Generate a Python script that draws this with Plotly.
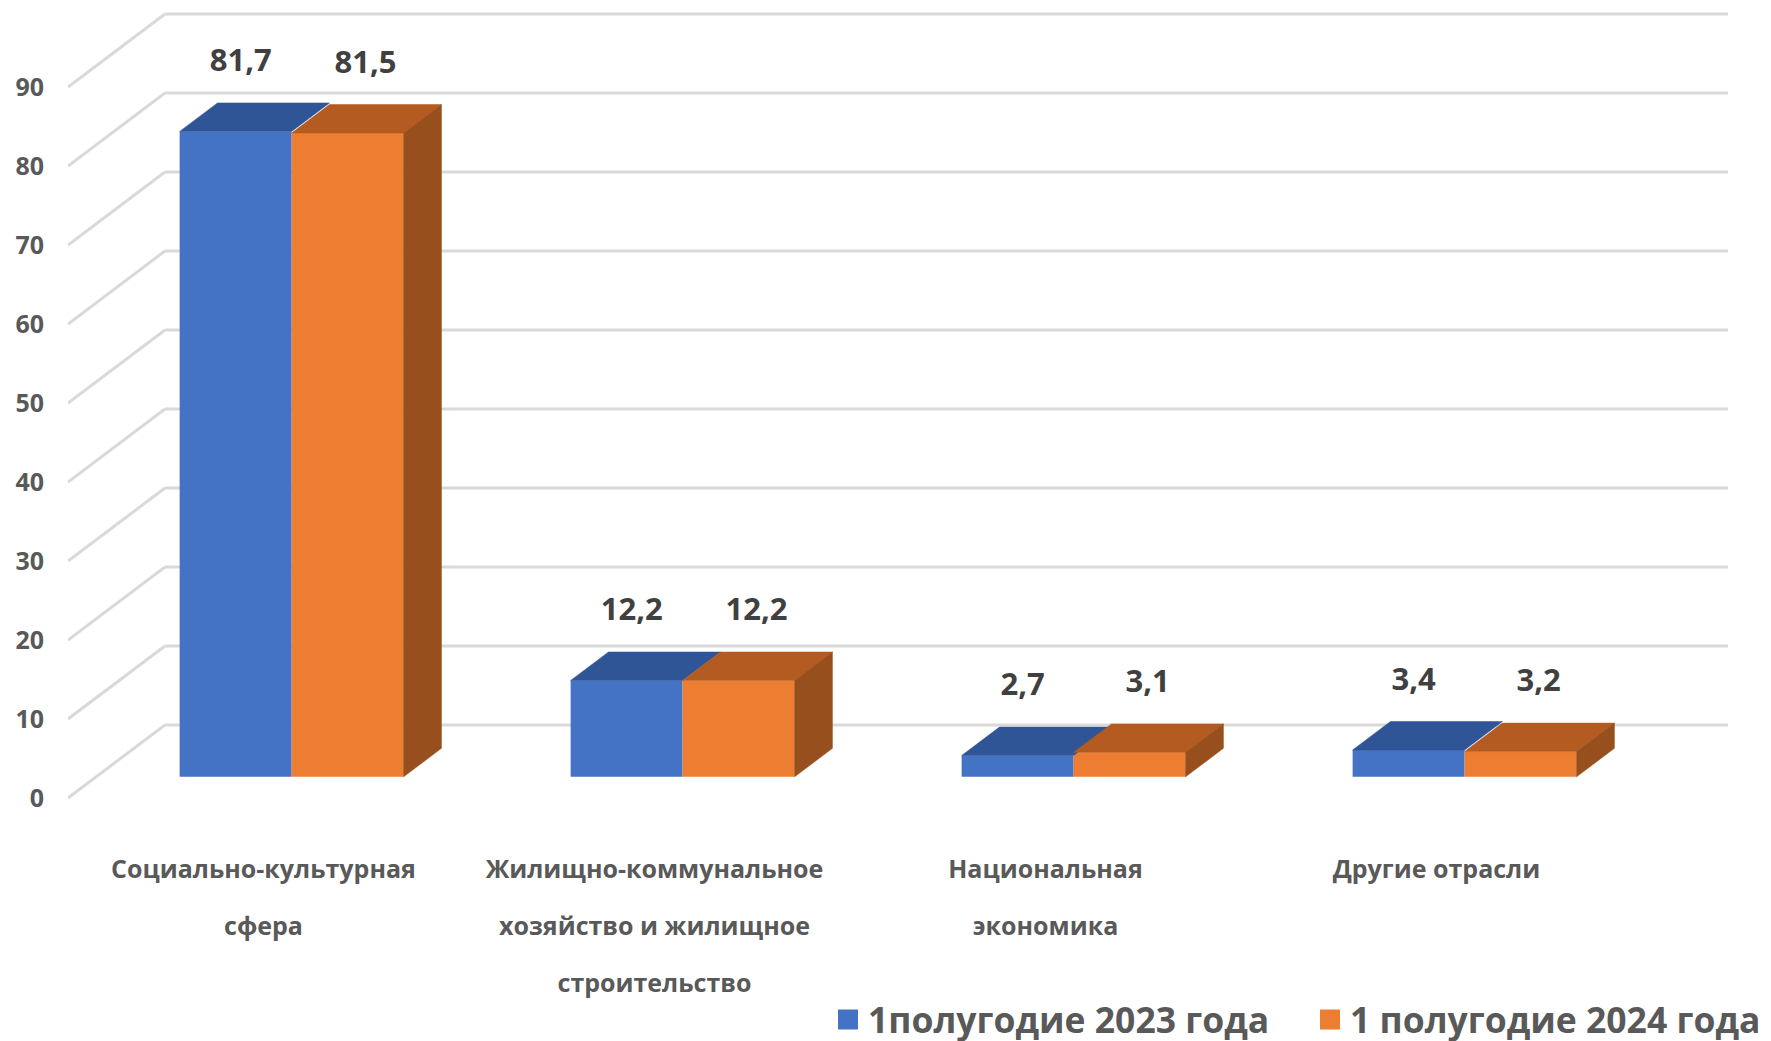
import plotly.graph_objects as go

# ---------------- data ----------------
category_lines = [
    ["Социально-культурная", "сфера"],
    ["Жилищно-коммунальное", "хозяйство и жилищное", "строительство"],
    ["Национальная", "экономика"],
    ["Другие отрасли"],
]
series_names = ["1полугодие 2023 года", "1 полугодие 2024 года"]
values_2023 = [81.7, 12.2, 2.7, 3.4]
values_2024 = [81.5, 12.2, 3.1, 3.2]
y_ticks = [0, 10, 20, 30, 40, 50, 60, 70, 80, 90]

# ---------------- style / geometry ----------------
W, H = 1771, 1041
FRONT_COLORS = ["#4472C4", "#ED7D31"]
TOP_COLORS = ["#2F5597", "#B35B21"]
SIDE_COLORS = ["#2F528F", "#974F1D"]
GRID = "#D9D9D9"
FONT = "Open Sans"

DX, DY = 0.2481, 9.24          # full depth of the 3D box in axis units
BAR_D0, BAR_D1 = 0.29, 0.68     # depth span of the bars (fraction)
BAR_W = 0.2864                  # width of one bar in category units
BARGAP = 1 - 2 * BAR_W

n = len(values_2023)
xs = list(range(n))
bx, by = BAR_D0 * DX, BAR_D0 * DY
ddx, ddy = (BAR_D1 - BAR_D0) * DX, (BAR_D1 - BAR_D0) * DY

fig = go.Figure()

# front faces
for s, vals in enumerate([values_2023, values_2024]):
    fig.add_trace(go.Bar(
        x=[i + bx for i in xs], y=vals, base=by, name=series_names[s],
        marker=dict(color=FRONT_COLORS[s], line=dict(width=0)),
        showlegend=False, hoverinfo="skip",
    ))

# top faces and side face
def top_poly(vals, off):
    px, py = [], []
    for i, v in zip(xs, vals):
        xl = i + bx + off - BAR_W / 2
        xr = xl + BAR_W
        t = by + v
        px += [xl, xr, xr + ddx, xl + ddx, xl, None]
        py += [t, t, t + ddy, t + ddy, t, None]
    return px, py

def side_poly(vals, off):
    px, py = [], []
    for i, v in zip(xs, vals):
        xr = i + bx + off + BAR_W / 2
        t = by + v
        px += [xr, xr, xr + ddx, xr + ddx, xr, None]
        py += [by, t, t + ddy, by + ddy, by, None]
    return px, py

offs = [-BAR_W / 2, BAR_W / 2]
for s, vals in enumerate([values_2023, values_2024]):
    tx, ty = top_poly(vals, offs[s])
    fig.add_trace(go.Scatter(x=tx, y=ty, mode="lines", fill="toself",
                             fillcolor=TOP_COLORS[s], line=dict(width=0.5, color=TOP_COLORS[s]),
                             showlegend=False, hoverinfo="skip"))
sx, sy = side_poly(values_2024, offs[1])
fig.add_trace(go.Scatter(x=sx, y=sy, mode="lines", fill="toself",
                         fillcolor=SIDE_COLORS[1], line=dict(width=0.5, color=SIDE_COLORS[1]),
                         showlegend=False, hoverinfo="skip"))

# data labels
LABEL_DY = 8.6
label_shift = [0.013, 0.046]
for s, vals in enumerate([values_2023, values_2024]):
    fig.add_trace(go.Scatter(
        x=[i + bx + offs[s] + label_shift[s] for i in xs],
        y=[by + v + LABEL_DY for v in vals],
        mode="text",
        text=[f"{v:.1f}".replace(".", ",") for v in vals],
        textfont=dict(family=FONT, size=31, color="#404040", weight="bold"),
        textposition="middle center", showlegend=False, hoverinfo="skip",
    ))

# legend entries
for s in range(2):
    fig.add_trace(go.Scatter(
        x=[None], y=[None], mode="markers", name=series_names[s],
        marker=dict(symbol="square", size=22, color=FRONT_COLORS[s],
                    line=dict(width=4, color=FRONT_COLORS[s])),
    ))

# gridlines: back wall + left diagonal
shapes = []
for v in y_ticks:
    shapes.append(dict(type="line", xref="x", yref="y", x0=-0.5, y0=v, x1=-0.5 + DX, y1=v + DY,
                       line=dict(color=GRID, width=3), layer="below"))
    shapes.append(dict(type="line", xref="x", yref="y", x0=-0.5 + DX, y0=v + DY, x1=n - 0.5 + DX, y1=v + DY,
                       line=dict(color=GRID, width=3), layer="below"))

ticktext = ["<br>".join(f"<span style='font-size:25px'>{l}</span>" for l in lines) for lines in category_lines]

# plot area (page has an 8px body margin, so the figure is laid out 8px up/left)
L, R, T, B = 60, 1720, 2, 792
fig.update_layout(
    width=W, height=H,
    margin=dict(l=L, r=W - R, t=T, b=H - B, autoexpand=False),
    plot_bgcolor="white", paper_bgcolor="white",
    barmode="group", bargap=BARGAP, bargroupgap=0,
    shapes=shapes,
    xaxis=dict(range=[-0.5, n - 0.5 + DX * 0.99], showgrid=False, zeroline=False, showline=False,
               tickmode="array", tickvals=xs, ticktext=ticktext, tickangle=0, ticks="",
               tickfont=dict(family=FONT, size=44, color="#595959", weight="bold"),
               ticklabelstandoff=33),
    yaxis=dict(range=[-0.253, 99.75], showgrid=False, zeroline=False, showline=False,
               tickmode="array", tickvals=y_ticks, ticks="",
               tickfont=dict(family=FONT, size=25, color="#595959", weight="bold"),
               ticklabelstandoff=23),
    legend=dict(orientation="h", x=(820 - L) / (R - L), xanchor="left",
                y=(B - 1012) / (B - T), yanchor="middle", entrywidth=437,
                font=dict(family=FONT, size=35.5, color="#595959", weight="bold"),
                itemsizing="trace", bgcolor="rgba(0,0,0,0)"),
)

fig.write_html("out.html")
